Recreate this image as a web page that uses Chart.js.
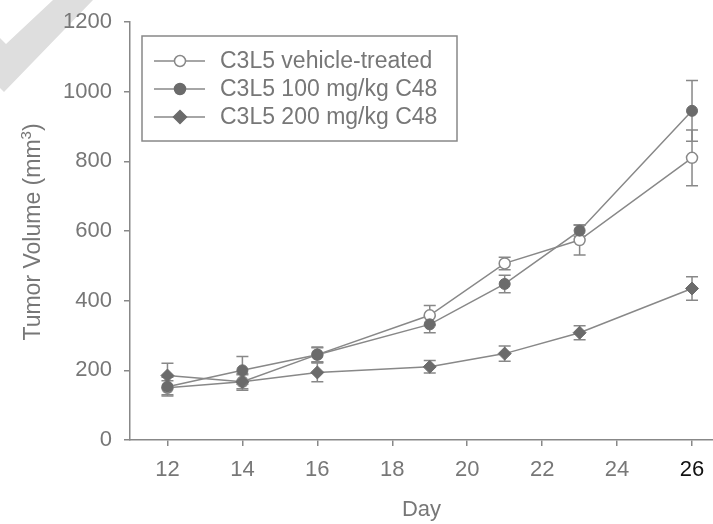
<!DOCTYPE html>
<html>
<head>
<meta charset="utf-8">
<script src="https://cdn.jsdelivr.net/npm/chart.js@4"></script>
<style>
  html, body { margin: 0; padding: 0; background: #fff; }
  #wrap { width: 713px; height: 524px; }
</style>
</head>
<body>
<div id="wrap"><canvas id="tumorChart"></canvas></div>
<script>
const days = [12, 14, 16, 19, 21, 23, 26];
const dayTicks = [12, 14, 16, 18, 20, 22, 24, 26];

const vehicle = [150, 167, 245, 358, 507, 574, 810];
const vehicleErr = [20, 20, 20, 28, 18, 43, 80];
const c48Low = [153, 200, 245, 332, 448, 601, 945];
const c48LowErr = [27, 40, 22, 24, 25, 16, 87];
const c48High = [185, 167, 194, 210, 248, 308, 435];
const c48HighErr = [35, 24, 27, 18, 22, 20, 34];

const seriesLabels = ['C3L5 vehicle-treated', 'C3L5 100 mg/kg C48', 'C3L5 200 mg/kg C48'];

const grey = '#888';
const dark = '#6b6b6b';
const textGrey = '#777';
const family = "'Liberation Sans', Arial, sans-serif";
const font = { family, size: 22 };

function toPoints(vals) {
  return vals.map((v, i) => ({ x: days[i], y: v }));
}

// light watermark band in the top-left corner
const watermark = {
  id: 'watermark',
  beforeDraw(chart) {
    const c = chart.ctx;
    c.save();
    c.fillStyle = '#dedede';
    c.beginPath();
    c.moveTo(53, 0);
    c.lineTo(93, 0);
    c.lineTo(4, 92);
    c.lineTo(0, 88);
    c.lineTo(0, 38);
    c.lineTo(6, 44);
    c.closePath();
    c.fill();
    c.restore();
  }
};

// y title with a real superscript
const yTitle = {
  id: 'yTitle',
  afterDraw(chart) {
    const c = chart.ctx;
    const area = chart.chartArea;
    const main = 'Tumor Volume (mm', sup = '3', close = ')';
    c.save();
    c.fillStyle = textGrey;
    c.textBaseline = 'alphabetic';
    c.font = `23px ${family}`;
    const w1 = c.measureText(main).width, w3 = c.measureText(close).width;
    c.font = `15px ${family}`;
    const w2 = c.measureText(sup).width;
    const total = w1 + w2 + w3;
    c.translate(40, (area.top + area.bottom) / 2 + 1);
    c.rotate(-Math.PI / 2);
    let x = -total / 2;
    c.font = `23px ${family}`;
    c.fillText(main, x, 0);
    x += w1;
    c.font = `15px ${family}`;
    c.fillText(sup, x, -9);
    x += w2;
    c.font = `23px ${family}`;
    c.fillText(close, x, 0);
    c.restore();
  }
};

// error bars, drawn under the markers
const errorBars = {
  id: 'errorBars',
  beforeDatasetsDraw(chart) {
    const c = chart.ctx;
    const xs = chart.scales.x, ys = chart.scales.y;
    c.save();
    c.strokeStyle = grey;
    c.lineWidth = 1.5;
    chart.data.datasets.forEach(ds => {
      ds.data.forEach((p, i) => {
        const e = ds.err[i];
        const px = xs.getPixelForValue(p.x);
        const top = ys.getPixelForValue(p.y + e);
        const bot = ys.getPixelForValue(p.y - e);
        c.beginPath();
        c.moveTo(px, top); c.lineTo(px, bot);
        c.moveTo(px - 6, top); c.lineTo(px + 6, top);
        c.moveTo(px - 6, bot); c.lineTo(px + 6, bot);
        c.stroke();
      });
    });
    c.restore();
  }
};

// boxed legend inside the plot
const boxLegend = {
  id: 'boxLegend',
  afterDraw(chart) {
    const c = chart.ctx;
    c.save();
    c.strokeStyle = grey;
    c.lineWidth = 1.5;
    c.strokeRect(142, 36, 315, 105);
    const rows = [61, 89, 117];
    chart.data.datasets.forEach((ds, i) => {
      const y = rows[i];
      c.strokeStyle = grey;
      c.lineWidth = 1.5;
      c.beginPath();
      c.moveTo(154, y); c.lineTo(205, y);
      c.stroke();
      c.fillStyle = ds.pointBackgroundColor;
      c.strokeStyle = ds.pointBorderColor;
      c.beginPath();
      if (ds.pointStyle === 'rectRot') {
        const r = 6.5;
        c.moveTo(180, y - r); c.lineTo(180 + r, y); c.lineTo(180, y + r); c.lineTo(180 - r, y);
        c.closePath();
      } else {
        c.arc(180, y, 5.5, 0, Math.PI * 2);
      }
      c.fill();
      c.stroke();
      c.fillStyle = textGrey;
      c.font = `23px ${family}`;
      c.textBaseline = 'middle';
      c.fillText(ds.label, 220, y + 1);
    });
    c.restore();
  }
};

new Chart(document.getElementById('tumorChart'), {
  type: 'line',
  data: {
    datasets: [
      {
        label: seriesLabels[0], data: toPoints(vehicle), err: vehicleErr, order: 3,
        borderColor: grey, borderWidth: 1.5, pointStyle: 'circle', pointRadius: 5.5,
        pointBackgroundColor: '#fff', pointBorderColor: grey, pointBorderWidth: 1.5
      },
      {
        label: seriesLabels[1], data: toPoints(c48Low), err: c48LowErr, order: 2,
        borderColor: grey, borderWidth: 1.5, pointStyle: 'circle', pointRadius: 5.5,
        pointBackgroundColor: dark, pointBorderColor: dark, pointBorderWidth: 1
      },
      {
        label: seriesLabels[2], data: toPoints(c48High), err: c48HighErr, order: 1,
        borderColor: grey, borderWidth: 1.5, pointStyle: 'rectRot', pointRadius: 6.5,
        pointBackgroundColor: dark, pointBorderColor: dark, pointBorderWidth: 1
      }
    ]
  },
  options: {
    responsive: true,
    maintainAspectRatio: false,
    animation: false,
    layout: { autoPadding: false, padding: { top: 22, right: 0, left: 0, bottom: 0 } },
    plugins: { legend: { display: false }, tooltip: { enabled: false } },
    scales: {
      x: {
        type: 'linear', min: 11, max: 26.56,
        afterBuildTicks(scale) { scale.ticks = dayTicks.map(v => ({ value: v })); },
        afterFit(scale) { scale.height = 84; scale.paddingLeft = 0; scale.paddingRight = 0; },
        border: { color: grey, width: 1.5 },
        grid: { drawOnChartArea: false, drawTicks: true, tickLength: 6, color: grey, lineWidth: 1.5 },
        ticks: {
          font, padding: 11, maxRotation: 0,
          color: ctx => (ctx.tick && ctx.tick.value === 26 ? '#111' : textGrey)
        },
        title: { display: true, text: 'Day', color: textGrey, font, padding: { top: 0, bottom: 1 } }
      },
      y: {
        min: 0, max: 1200,
        afterFit(scale) { scale.width = 130; scale.paddingTop = 0; scale.paddingBottom = 0; },
        border: { color: grey, width: 1.5 },
        grid: { drawOnChartArea: false, drawTicks: true, tickLength: 6, color: grey, lineWidth: 1.5 },
        ticks: { font, padding: 12, stepSize: 200, color: textGrey, callback: v => String(v) },
        title: { display: false }
      }
    }
  },
  plugins: [watermark, errorBars, boxLegend, yTitle]
});
</script>
</body>
</html>
